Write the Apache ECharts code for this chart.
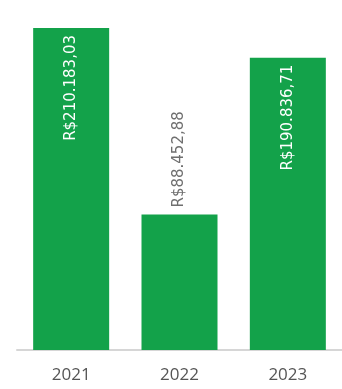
<!DOCTYPE html>
<html>
<head>
<meta charset="utf-8">
<script src="https://cdn.jsdelivr.net/npm/echarts@6/dist/echarts.min.js"></script>
<style>
  html, body { margin: 0; padding: 0; background: #fff; }
  #chart { width: 342px; height: 389px; }
</style>
</head>
<body>
<div id="chart"></div>
<script>
var anos = ['2021', '2022', '2023'];
var valores = [210183.03, 88452.88, 190836.71];
var rotulos = ['R$210.183,03', 'R$88.452,88', 'R$190.836,71'];

var chart = echarts.init(document.getElementById('chart'));

// 2022 label sits above the bar, the others inside
var dados = valores.map(function (v, i) {
    var fora = i === 1;
    return {
        value: v,
        label: {
            show: true,
            rotate: 90,
            position: fora ? 'top' : 'insideTop',
            align: fora ? 'left' : 'right',
            verticalAlign: 'middle',
            distance: 7,
            color: fora ? '#6f6f6f' : '#fff',
            fontSize: 15,
            fontFamily: 'DejaVu Sans',
            formatter: function () { return rotulos[i]; }
        }
    };
});

chart.setOption({
    animation: false,
    grid: { left: 17, right: 0, top: 28, bottom: 39 },
    xAxis: {
        type: 'category',
        data: anos,
        axisTick: { show: false },
        axisLine: { lineStyle: { color: '#d6d6d6', width: 2 } },
        axisLabel: { color: '#555', fontSize: 17, fontFamily: 'Open Sans', margin: 17 }
    },
    yAxis: {
        type: 'value',
        min: 0,
        max: 210183.03,
        show: false
    },
    series: [{
        type: 'bar',
        data: dados,
        barWidth: 76,
        itemStyle: { color: '#13a24a' }
    }]
});
</script>
</body>
</html>
